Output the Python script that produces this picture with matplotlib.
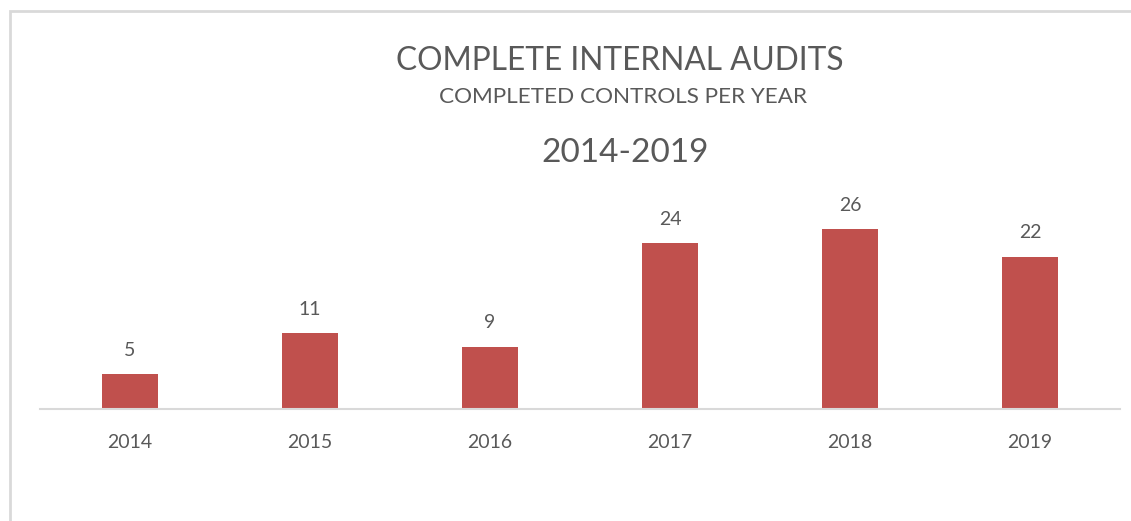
import matplotlib
matplotlib.use("Agg")
import matplotlib.pyplot as plt
from matplotlib.patches import Rectangle

years = ["2014", "2015", "2016", "2017", "2018", "2019"]
values = [5, 11, 9, 24, 26, 22]
title = "COMPLETE INTERNAL AUDITS"
subtitle = "COMPLETED CONTROLS PER YEAR"
period = "2014-2019"

W, H = 1131, 521
fig = plt.figure(figsize=(W / 100, H / 100), dpi=100)
fig.patch.set_facecolor("white")
plt.rcParams['font.family'] = ['Lato', 'DejaVu Sans']

txt = "#595959"
bar_color = "#C0504D"

# border
fig.add_artist(Rectangle((10 / W, -0.1), 1.2, (H - 11) / H + 0.1, transform=fig.transFigure,
                         fill=False, edgecolor="#d9d9d9", linewidth=2))

# axes: x from 40 to 1120 px, baseline at 409 px
left, right = 40, 1120
bottom = 409
ymax = 30
ppu = 6.92
top = bottom - ymax * ppu
ax = fig.add_axes([left / W, 1 - bottom / H, (right - left) / W, (bottom - top) / H])
ax.set_facecolor("none")
x = list(range(len(years)))
bars = ax.bar(x, values, width=0.315, color=bar_color, edgecolor="none")
ax.set_xlim(-0.5, len(years) - 0.5)
ax.set_ylim(0, ymax)
for s in ["top", "left", "right"]:
    ax.spines[s].set_visible(False)
ax.spines["bottom"].set_color("#d9d9d9")
ax.spines["bottom"].set_linewidth(1.5)
ax.set_yticks([])
ax.set_xticks(x)
ax.set_xticklabels(years, fontsize=14, color=txt)
ax.tick_params(axis="x", length=0, pad=18)
for xi, v in zip(x, values):
    ax.annotate(str(v), (xi, v), xytext=(0, 11), textcoords="offset points",
                ha="center", va="bottom", fontsize=14, color=txt)

fig.text(620 / W, 1 - 61 / H, title, ha="center", va="center", fontsize=22.8, color=txt)
fig.text(623 / W, 1 - 97 / H, subtitle, ha="center", va="center", fontsize=16.2, color=txt)
fig.text(625 / W, 1 - 153 / H, period, ha="center", va="center", fontsize=24, color=txt)

fig.savefig("out.png", dpi=100, facecolor="white")
